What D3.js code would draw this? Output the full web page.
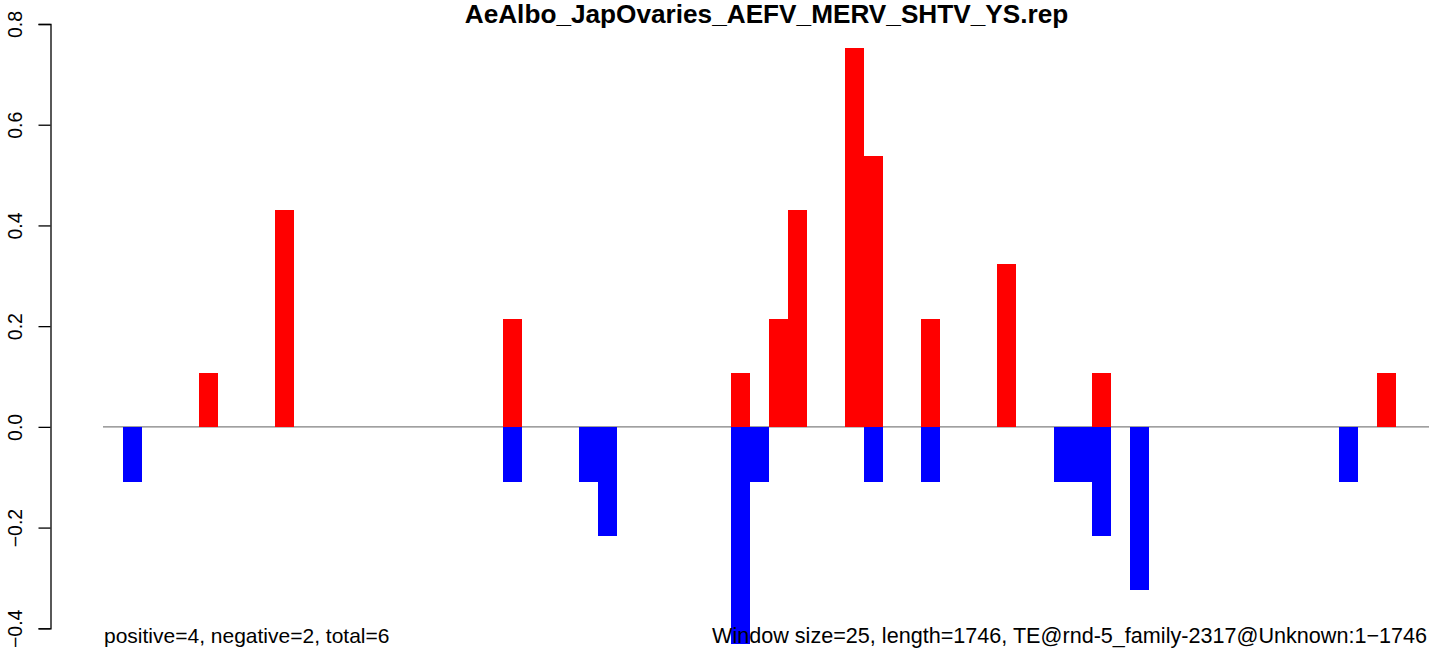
<!DOCTYPE html>
<html><head><meta charset="utf-8">
<script src="https://cdn.jsdelivr.net/npm/d3@7"></script>
<style>body{margin:0;background:#fff}svg{display:block}text{font-family:"Liberation Sans",Arial,sans-serif}</style>
</head><body>
<svg id="c" width="1429" height="649"></svg>
<script>
const title = "AeAlbo_JapOvaries_AEFV_MERV_SHTV_YS.rep";
const windowSize = 25, seqLength = 1746;
const posWindows = [5, 9, 21, 33, 35, 36, 39, 40, 43, 47, 52, 67];
const posValues  = [0.1075, 0.43, 0.215, 0.1075, 0.215, 0.43, 0.7525, 0.5375, 0.215, 0.3225, 0.1075, 0.1075];
const negWindows = [1, 21, 25, 26, 33, 34, 40, 43, 50, 51, 52, 54, 65];
const negValues  = [-0.1075, -0.1075, -0.1075, -0.215, -0.43, -0.1075, -0.1075, -0.1075, -0.1075, -0.1075, -0.215, -0.3225, -0.1075];
const yTicks = [-0.4, -0.2, 0.0, 0.2, 0.4, 0.6, 0.8];
const leftNote = "positive=4, negative=2, total=6";
const rightNote = "Window size=25, length=1746, TE@rnd-5_family-2317@Unknown:1\u22121746";

const svg = d3.select("#c");
const x = d3.scaleLinear().domain([0, seqLength]).range([104.2, 1430.7]);
const y = d3.scaleLinear().domain([-0.4, 0.8]).range([628.3, 24]);

// zero line
svg.append("line").attr("x1", 103).attr("x2", 1429).attr("y1", y(0)).attr("y2", y(0))
  .attr("stroke", "#808080").attr("stroke-width", 1.2);

const bw = x(windowSize) - x(0);
const pos = posWindows.map((w, i) => ({w, v: posValues[i]}));
const neg = negWindows.map((w, i) => ({w, v: negValues[i]}));
svg.append("g").selectAll("rect").data(pos).join("rect")
  .attr("x", d => x(d.w * windowSize)).attr("width", bw)
  .attr("y", d => y(d.v)).attr("height", d => y(0) - y(d.v))
  .attr("fill", "#ff0000").attr("shape-rendering", "crispEdges");
svg.append("g").selectAll("rect").data(neg).join("rect")
  .attr("x", d => x(d.w * windowSize)).attr("width", bw)
  .attr("y", y(0) + 0.5).attr("height", d => y(d.v) - y(0))
  .attr("fill", "#0000ff").attr("shape-rendering", "crispEdges");

// y axis
const ax = svg.append("g").attr("transform", "translate(50.5,0)")
  .call(d3.axisLeft(y).tickValues(yTicks).tickSize(12).tickFormat(d => d3.format(".1f")(d).replace("-", "\u2212")));
ax.select(".domain").attr("stroke", "#000").attr("stroke-width", 1.3);
ax.selectAll(".tick line").attr("stroke", "#000").attr("stroke-width", 1.3);
ax.selectAll(".tick text").attr("font-size", 19.5).attr("fill", "#000")
  .attr("transform", "rotate(-90)").attr("x", 0).attr("y", -28.5).attr("dy", 0)
  .attr("text-anchor", "middle");

// title
svg.append("text").attr("x", 766.5).attr("y", 23).attr("text-anchor", "middle")
  .attr("font-size", 26.2).attr("font-weight", "bold").text(title);

svg.append("text").attr("x", 104).attr("y", 643).attr("font-size", 21).text(leftNote);
svg.append("text").attr("x", 712).attr("y", 643).attr("font-size", 21.6).text(rightNote);
</script>
</body></html>
